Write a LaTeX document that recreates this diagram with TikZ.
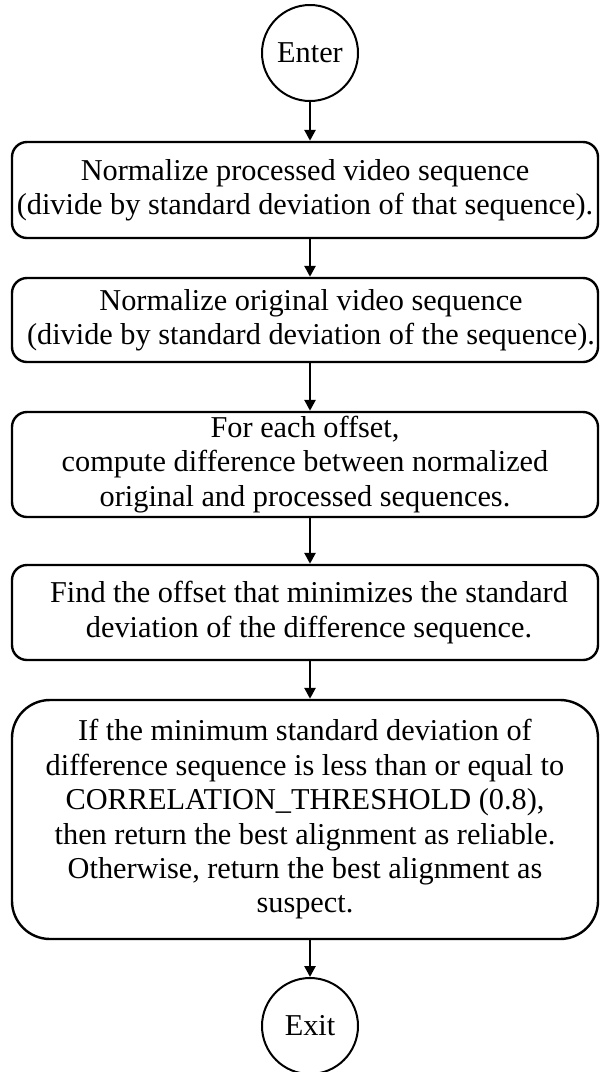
\documentclass[tikz,border=0pt]{standalone}
\usepackage{fontspec}
\setmainfont{Liberation Serif}
\usetikzlibrary{arrows.meta,positioning}
\tikzset{
  stepbox/.style={draw, line width=2.4pt, rounded corners=15pt, minimum width=586pt, align=center, inner sep=0pt, fill=white},
  term/.style={draw, circle, line width=2pt, minimum size=96pt, inner sep=0pt},
  flow/.style={line width=2.6pt, -{Triangle[width=11pt,length=11pt]}}
}
\begin{document}
\begin{tikzpicture}[x=1pt,y=-1pt,font=\fontsize{30.3}{34.4}\selectfont]
\useasboundingbox (0,0) rectangle (600,1072);
\node[term] (enter) at (310,53) {Enter};
\node[stepbox, minimum height=96pt] (b1) at (305,190) {Normalize processed video sequence\\(divide by standard deviation of that sequence).};
\node[stepbox, minimum height=84pt] (b2) at (305,320) {\hspace*{12pt}Normalize original video sequence\\\hspace*{12pt}(divide by standard deviation of the sequence).};
\node[stepbox, minimum height=105pt] (b3) at (305,464.5) {For each offset,\\compute difference between normalized\\original and processed sequences.};
\node[stepbox, minimum height=95pt] (b4) at (305,612.5) {\hspace*{8pt}Find the offset that minimizes the standard\\\hspace*{8pt}deviation of the difference sequence.};
\node[stepbox, minimum height=239pt, rounded corners=38pt] (b5) at (305,819.5) {If the minimum standard deviation of\\difference sequence is less than or equal to\\CORRELATION\_THRESHOLD (0.8),\\then return the best alignment as reliable.\\Otherwise, return the best alignment as\\suspect.};
\node[term] (exit) at (310,1026) {Exit};
\draw[flow] (enter.south) -- (enter.south |- b1.north);
\draw[flow] (b1.south -| enter.south) -- (b2.north -| enter.south);
\draw[flow] (b2.south -| enter.south) -- (b3.north -| enter.south);
\draw[flow] (b3.south -| enter.south) -- (b4.north -| enter.south);
\draw[flow] (b4.south -| enter.south) -- (b5.north -| enter.south);
\draw[flow] (b5.south -| exit.north) -- (exit.north);
\end{tikzpicture}
\end{document}
